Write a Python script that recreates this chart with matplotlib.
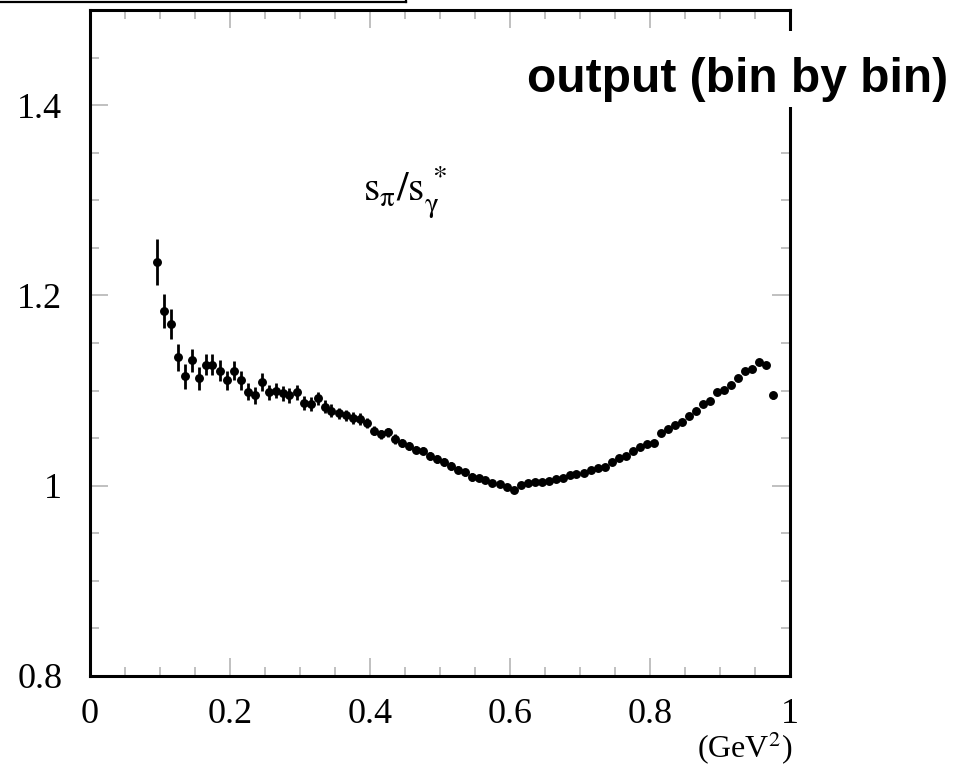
import matplotlib
matplotlib.use("Agg")
import matplotlib.pyplot as plt
from matplotlib.patches import Rectangle
from matplotlib.lines import Line2D
from matplotlib.ticker import MultipleLocator, FixedLocator, FixedFormatter

# ---- data ----
q2 = [0.095, 0.105, 0.115, 0.125, 0.135, 0.145, 0.155, 0.165, 0.175, 0.185,
      0.195, 0.205, 0.215, 0.225, 0.235, 0.245, 0.255, 0.265, 0.275, 0.285,
      0.295, 0.305, 0.315, 0.325, 0.335, 0.345, 0.355, 0.365, 0.375, 0.385,
      0.395, 0.405, 0.415, 0.425, 0.435, 0.445, 0.455, 0.465, 0.475, 0.485,
      0.495, 0.505, 0.515, 0.525, 0.535, 0.545, 0.555, 0.565, 0.575, 0.585,
      0.595, 0.605, 0.615, 0.625, 0.635, 0.645, 0.655, 0.665, 0.675, 0.685,
      0.695, 0.705, 0.715, 0.725, 0.735, 0.745, 0.755, 0.765, 0.775, 0.785,
      0.795, 0.805, 0.815, 0.825, 0.835, 0.845, 0.855, 0.865, 0.875, 0.885,
      0.895, 0.905, 0.915, 0.925, 0.935, 0.945, 0.955, 0.965, 0.975]
ratio = [1.235, 1.184, 1.170, 1.135, 1.115, 1.132, 1.113, 1.127, 1.127, 1.121,
         1.111, 1.121, 1.111, 1.099, 1.095, 1.109, 1.098, 1.100, 1.097, 1.095,
         1.098, 1.087, 1.086, 1.092, 1.083, 1.079, 1.076, 1.074, 1.071, 1.070,
         1.066, 1.058, 1.054, 1.056, 1.049, 1.045, 1.042, 1.038, 1.037, 1.031,
         1.028, 1.025, 1.021, 1.017, 1.014, 1.009, 1.008, 1.006, 1.003, 1.002,
         0.999, 0.996, 1.001, 1.003, 1.004, 1.004, 1.005, 1.007, 1.008, 1.011,
         1.012, 1.013, 1.017, 1.019, 1.020, 1.025, 1.029, 1.031, 1.036, 1.041,
         1.044, 1.045, 1.055, 1.060, 1.064, 1.067, 1.073, 1.079, 1.086, 1.089,
         1.099, 1.101, 1.106, 1.113, 1.121, 1.123, 1.130, 1.127, 1.095]
ratio_err = [0.024, 0.018, 0.016, 0.014, 0.013, 0.012, 0.012, 0.011, 0.011, 0.011,
             0.010, 0.010, 0.010, 0.009, 0.009, 0.009, 0.008, 0.008, 0.008, 0.008,
             0.008, 0.007, 0.007, 0.007, 0.007, 0.007, 0.006, 0.006, 0.006, 0.006,
             0.005, 0.005, 0.005, 0.005, 0.005, 0.004, 0.004, 0.004, 0.004, 0.004,
             0.004, 0.004, 0.004, 0.004, 0.004, 0.004, 0.003, 0.003, 0.003, 0.003,
             0.003, 0.003, 0.003, 0.003, 0.003, 0.003, 0.003, 0.003, 0.003, 0.003,
             0.003, 0.003, 0.003, 0.003, 0.003, 0.003, 0.003, 0.003, 0.003, 0.003,
             0.003, 0.003, 0.003, 0.003, 0.003, 0.003, 0.003, 0.003, 0.003, 0.003,
             0.003, 0.003, 0.003, 0.003, 0.003, 0.003, 0.003, 0.003, 0.004]

x_ticks = [0, 0.2, 0.4, 0.6, 0.8, 1.0]
x_tick_labels = ["0", "0.2", "0.4", "0.6", "0.8", "1"]
y_ticks = [0.8, 1.0, 1.2, 1.4]
y_tick_labels = ["0.8", "1", "1.2", "1.4"]

plt.rcParams['mathtext.fontset'] = 'stix'
serif = 'Liberation Serif'

W, H = 978, 767
fig = plt.figure(figsize=(W / 100, H / 100), dpi=100)
ax = fig.add_axes([90 / W, 1 - 676 / H, 700 / W, 666 / H])

ax.errorbar(q2, ratio, yerr=ratio_err, fmt='o', color='black', ms=5.4,
            elinewidth=2.0, capsize=0, zorder=3)

ax.set_xlim(0, 1.0)
ax.set_ylim(0.8, 1.5)

ax.xaxis.set_major_locator(FixedLocator(x_ticks))
ax.xaxis.set_major_formatter(FixedFormatter(x_tick_labels))
ax.yaxis.set_major_locator(FixedLocator(y_ticks))
ax.yaxis.set_major_formatter(FixedFormatter(y_tick_labels))
ax.xaxis.set_minor_locator(MultipleLocator(0.05))
ax.yaxis.set_minor_locator(MultipleLocator(0.05))

ax.tick_params(which='both', direction='in', top=True, right=True,
               color='#b5b5b5', width=1.2)
ax.tick_params(which='major', length=13)
ax.tick_params(which='minor', length=6.5)
ax.tick_params(axis='x', which='major', pad=16, labelsize=26)
ax.tick_params(axis='y', which='major', pad=20, labelsize=26)
for lab in ax.get_xticklabels() + ax.get_yticklabels():
    lab.set_fontfamily(serif)

for sp in ax.spines.values():
    sp.set_linewidth(2.2)
    sp.set_color('black')

ax.text(0.45, 1.309, r'$\mathrm{s}_{\mathrm{π}}/\mathrm{s}_{\mathrm{γ}}^{\,*}$',
        fontsize=30, ha='center', va='center')

fig.text(792 / W, 1 - 748 / H, r'(GeV$^{2}$)', fontsize=23, family=serif,
         ha='right', va='center')

# white patch + title text overlapping the right spine
fig.add_artist(Rectangle((520 / W, 1 - 107 / H), 445 / W, 76 / H,
                         transform=fig.transFigure, facecolor='white',
                         edgecolor='none', zorder=5))
fig.text(738 / W, 1 - 80 / H, 'output (bin by bin)', fontsize=34.5,
         family='Liberation Sans', weight='bold', ha='center', va='center',
         zorder=6)

# top-left box edge (cropped)
fig.add_artist(Line2D([0, 406 / W], [1 - 2 / H, 1 - 2 / H],
                      transform=fig.transFigure, color='black', lw=1.6))
fig.add_artist(Line2D([406 / W, 406 / W], [1 - 2 / H, 1],
                      transform=fig.transFigure, color='black', lw=1.6))

fig.savefig('out.png', dpi=100)
